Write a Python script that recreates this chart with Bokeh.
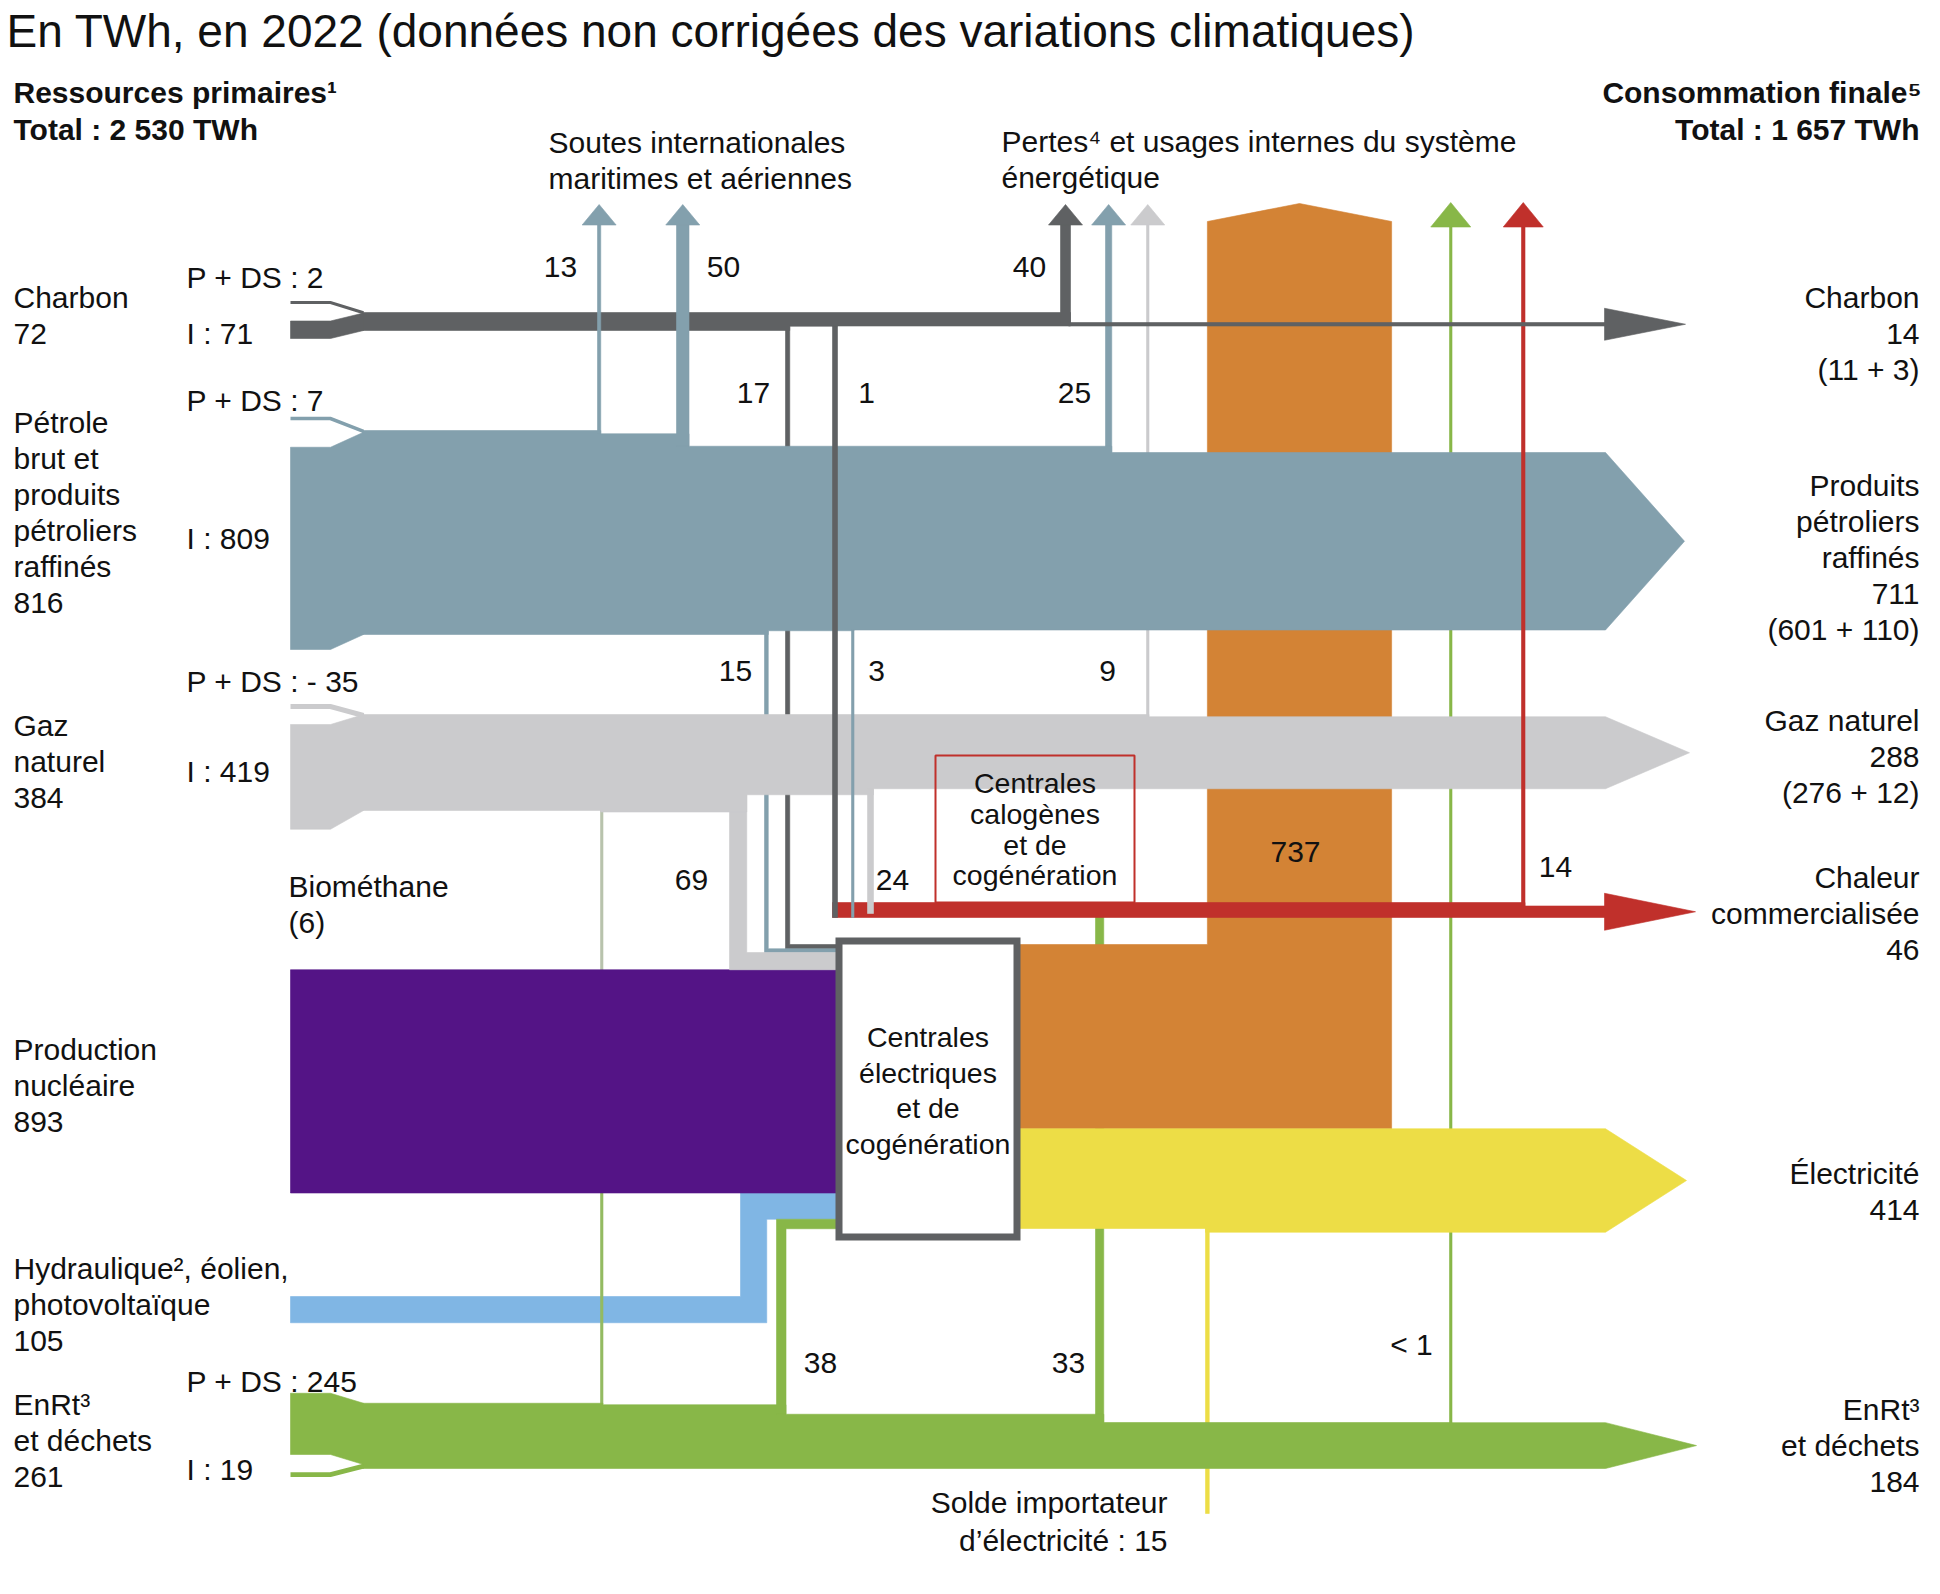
from collections import defaultdict
from bokeh.plotting import figure
from bokeh.models import Range1d
from bokeh.embed import file_html
from bokeh.resources import INLINE
from bokeh.core.properties import value

# ======================= DATA (TWh, 2022) =======================
title = "En TWh, en 2022 (données non corrigées des variations climatiques)"
total_primary = "2 530"
total_final = "1 657"

src_names = ["Charbon", "Pétrole brut et produits pétroliers raffinés", "Gaz naturel",
             "Production nucléaire", "Hydraulique, éolien, photovoltaïque", "EnRt et déchets"]
src_totals = [72, 816, 384, 893, 105, 261]
pds_values = [2, 7, -35, 245]        # production + déstockage : charbon, pétrole, gaz, EnRt
imp_values = [71, 809, 419, 19]      # importations : charbon, pétrole, gaz, EnRt

coal_out = [17, 1, 40, 14]               # centrales élec., calogènes, pertes, finale
petrol_out = [13, 50, 15, 3, 25, 711]    # soutes (x2), centrales élec., calogènes, pertes, finale
gas_out = [69, 24, 9, 288]               # centrales élec., calogènes, pertes, finale
enrt_out = [6, 38, 33, 0.5, 184]         # biométhane, centrales élec., calogènes, pertes (< 1), finale
enrt_out_text = ["6", "38", "33", "< 1", "184"]
elec_out = [737, 414]                    # pertes, électricité finale
elec_import = 15                         # solde importateur
heat_out = [14, 46]                      # pertes, chaleur commercialisée

final_totals = [14, 711, 288, 46, 414, 184]
final_detail = ["(11 + 3)", "(601 + 110)", "(276 + 12)"]

# ======================= LAYOUT =======================
K = 0.25          # px per TWh
MINW = 2.5
def wv(v): return abs(v) * K
def wd(v): return max(abs(v) * K, MINW)

X0, X1, XB = 290, 330, 362
XH = 1605
HB, HT, HW = 224, 204, 17
BOX_L, BOX_R, BOX_T, BOX_B, BOX_LW = 835, 1020, 937, 1240, 7
STACK0 = 944
RED_BOT = 917
ORANGE_XC, ORANGE_SH, ORANGE_PK = 1299, 221, 203

C = dict(coal="#5f6163", petrol="#83a0ad", gas="#cbcbcd", nuc="#541486", hydro="#80b6e4",
         enrt="#88b748", orange="#d38335", yellow="#eddd46", red="#c0302b",
         bio_up="#b8c3ad", bio_lo="#93bb62")

fig = figure(width=1940, height=1594, x_range=Range1d(0, 1940), y_range=Range1d(1594, 0),
             output_backend="svg", toolbar_location=None, min_border=0,
             x_axis_location=None, y_axis_location=None)
fig.grid.visible = False
fig.outline_line_color = None
fig.background_fill_color = "white"
fig.border_fill_color = "white"


def patch(xs, ys, c):
    fig.patch(list(xs), list(ys), fill_color=c, line_color=c, line_width=0.6)


def rect(x0, x1, y0, y1, c):
    patch([x0, x1, x1, x0], [y0, y0, y1, y1], c)


def band(x0, x1, top, bot, events, tip=None):
    tops, bots, before = [(x0, top)], [(x0, bot)], []
    for xe, side, v in events:
        before.append((top, bot))
        dv = K * v
        xs = xe + wd(v) if v > 0 else xe
        if side == "top":
            tops += [(xs, top), (xs, top + dv)]
            top += dv
        else:
            bots += [(xs, bot), (xs, bot - dv)]
            bot -= dv
    tops.append((x1, top))
    bots.append((x1, bot))
    pts = tops + ([(tip, (top + bot) / 2)] if tip else []) + bots[::-1]
    return [q[0] for q in pts], [q[1] for q in pts], before, top, bot


def up_arrow(xl, v, y_from, c, hw=HW, tip=HT, base=HB):
    w_ = wd(v)
    rect(xl, xl + w_, base, y_from, c)
    xc = xl + w_ / 2
    patch([xc - hw, xc, xc + hw], [base + 0.5, tip, base + 0.5], c)


def down_L(xl, v, y_from, leg_t, leg_b, c):
    w_ = wd(v)
    patch([xl, xl + w_, xl + w_, BOX_L + 4, BOX_L + 4, xl],
          [y_from, y_from, leg_t, leg_t, leg_b, leg_b], c)


def thin_stub(y_left, y_join, v, c, lw=None):
    fig.line([X0, X1, XB + 1], [y_left, y_left, y_join], line_width=lw or wd(v), line_color=c,
             line_join="miter")


def thick_stub(lt, lb, rt, rb, c):
    patch([X0, X1, XB + 1, XB + 1, X1, X0], [lt, lt, rt, rb, lb, lb], c)


# ---- vertical positions of the lanes
c_top = 312.0
c_bot = c_top + wv(src_totals[0])
p_top = 430.0
p_bot = p_top + wv(src_totals[1])
g_top = 714.0
g_bot = g_top + wv(src_totals[2])
e_bot0 = 1468.0
e_top = e_bot0 - wv(src_totals[5])
h_top = 1296.0
h_bot = h_top + wv(src_totals[4])

# stacking at the power-plant box
stack_vals = [coal_out[0], petrol_out[2], gas_out[0], src_totals[3], src_totals[4], enrt_out[1]]
stack = []
y = STACK0
for v in stack_vals:
    stack.append((y, y + wv(v)))
    y += wv(v)

# bands
cx, cy, c_bef, c_top_f, c_bot_f = band(XB, 1070, c_top, c_bot,
                                       [(785, "bot", coal_out[0]), (832, "bot", coal_out[1]),
                                        (1060, "top", coal_out[2])])
px, py, p_bef, _, _ = band(XB, XH, p_top, p_bot,
                           [(597, "top", petrol_out[0]), (676, "top", petrol_out[1]),
                            (764, "bot", petrol_out[2]), (851, "bot", petrol_out[3]),
                            (1105, "top", petrol_out[4])], tip=1684)
gx, gy, g_bef, _, _ = band(XB, XH, g_top, g_bot,
                           [(600, "bot", -enrt_out[0]), (729, "bot", gas_out[0]),
                            (867, "bot", gas_out[1]), (1146, "top", gas_out[2])], tip=1689)
ex, ey, e_bef, _, _ = band(XB, XH, e_top, e_bot0,
                           [(600, "top", enrt_out[0]), (776, "top", enrt_out[1]),
                            (1095, "top", enrt_out[2]), (1449, "top", enrt_out[3])], tip=1696)

elec_prod = elec_out[1] - elec_import
o_top = STACK0
o_bot = o_top + wv(elec_out[0])
y_top = o_bot
y_bot = y_top + wv(elec_prod)
yx, yy, y_bef, _, _ = band(BOX_R - 4, XH, y_top, y_bot, [(1205, "bot", -elec_import)], tip=1686)

r_top = RED_BOT - wv(heat_out[0] + heat_out[1])
rx, ry, r_bef, r_top_f, r_bot_f = band(832, XH, r_top, RED_BOT, [(1521, "top", heat_out[0])])

# ======================= DRAW (back to front) =======================
# green lines under orange / yellow
up_arrow(1449, enrt_out[3], e_bef[3][0] + 1, C["enrt"], hw=20, tip=202, base=226)
rect(1095, 1095 + wd(enrt_out[2]), RED_BOT - 2, e_bef[2][0] + wv(enrt_out[2]), C["enrt"])

# losses of the power plants (orange)
ow = wv(elec_out[0])
oxl, oxr = ORANGE_XC - ow / 2, ORANGE_XC + ow / 2
patch([BOX_R - 4, oxl, oxl, ORANGE_XC, oxr, oxr, BOX_R - 4],
      [o_top, o_top, ORANGE_SH, ORANGE_PK, ORANGE_SH, o_bot, o_bot], C["orange"])

# electricity + import
rect(1205, 1205 + wd(elec_import), y_bot - 1, 1513, C["yellow"])
patch(yx, yy, C["yellow"])

# hydro
hx = 740
hw_ = wv(src_totals[4])
patch([X0, hx, hx, BOX_L + 4, BOX_L + 4, hx + hw_, hx + hw_, X0],
      [h_top, h_top, stack[4][0], stack[4][0], stack[4][1], stack[4][1], h_bot, h_bot], C["hydro"])

# biomethane
rect(600, 600 + wd(enrt_out[0]), g_bot - 1, stack[3][0] + 20, C["bio_up"])
rect(600, 600 + wd(enrt_out[0]), stack[3][1] - 20, e_bef[0][0] + 1, C["bio_lo"])

# nuclear
rect(X0, BOX_L + 4, stack[3][0], stack[3][1], C["nuc"])

# EnRt band + stubs + 38 to power plants
patch(ex, ey, C["enrt"])
thick_stub(e_top - 10, e_top - 10 + wv(pds_values[3]), e_top, e_top + wv(pds_values[3]), C["enrt"])
thin_stub(e_bot0 + 6, e_bot0 - wv(imp_values[3]) / 2, imp_values[3], C["enrt"])
w38 = wd(enrt_out[1])
patch([776, 776, BOX_L + 4, BOX_L + 4, 776 + w38, 776 + w38],
      [e_bef[1][0] + wv(enrt_out[1]), stack[5][0], stack[5][0], stack[5][1], stack[5][1],
       e_bef[1][0] + wv(enrt_out[1])], C["enrt"])

# lines that pass under petrol / gas bands
up_arrow(1146, gas_out[2], g_bef[3][0] + wv(gas_out[2]), C["gas"])
up_arrow(1105, petrol_out[4], p_bef[4][0] + wv(petrol_out[4]), C["petrol"])
down_L(785, coal_out[0], c_bef[0][1] - wv(coal_out[0]), stack[0][0], stack[0][1], C["coal"])
down_L(764, petrol_out[2], p_bef[2][1] - wv(petrol_out[2]), stack[1][0], stack[1][1], C["petrol"])
down_L(729, gas_out[0], g_bef[1][1] - wv(gas_out[0]), stack[2][0], stack[2][1], C["gas"])

# petrol band + stubs
patch(px, py, C["petrol"])
thin_stub(p_top - 12, p_top + wv(pds_values[1]) / 2, pds_values[1], C["petrol"], lw=3.5)
thick_stub(p_top + wv(pds_values[1]) + 15, p_bot + 15, p_top + wv(pds_values[1]), p_bot, C["petrol"])

# gas band + stubs
patch(gx, gy, C["gas"])
thin_stub(g_top - 8, g_top + 1, pds_values[2], C["gas"], lw=5)
thick_stub(g_top + 10, g_top + 10 + wv(imp_values[2]), g_top, g_bot, C["gas"])

# heat (red)
patch(rx, ry, C["red"])
rcy = (r_top_f + r_bot_f) / 2
patch([XH - 1, 1695, XH - 1], [rcy - 18.5, rcy, rcy + 18.5], C["red"])
up_arrow(1521, heat_out[0], r_bef[0][0] + wv(heat_out[0]), C["red"], hw=20, tip=202, base=226)

# inputs of the heat plants
rect(832, 832 + 5, c_bef[1][1] - wv(coal_out[1]), RED_BOT, C["coal"])
rect(851, 851 + wd(petrol_out[3]), p_bef[3][1] - 1, RED_BOT, C["petrol"])
rect(867, 867 + wd(gas_out[1]), g_bef[2][1] - wv(gas_out[1]), RED_BOT - 4, C["gas"])

# coal band + stubs + arrow + losses
patch(cx, cy, C["coal"])
thin_stub(c_top - 10, c_top + wv(pds_values[0]) / 2, pds_values[0], C["coal"], lw=3)
thick_stub(c_top + wv(pds_values[0]) + 8, c_bot + 8, c_top + wv(pds_values[0]), c_bot, C["coal"])
rect(1068, XH, c_top_f, c_bot_f, C["coal"])
ccy = (c_top_f + c_bot_f) / 2
patch([XH - 1, 1685, XH - 1], [ccy - 16, ccy, ccy + 16], C["coal"])
up_arrow(1060, coal_out[2], c_bef[2][0] + wv(coal_out[2]), C["coal"])

# international bunkers (over the coal band)
up_arrow(597, petrol_out[0], p_bef[0][0] + wv(petrol_out[0]), C["petrol"])
up_arrow(676, petrol_out[1], p_bef[1][0] + wv(petrol_out[1]), C["petrol"])

# power plant box
h = BOX_LW / 2
fig.quad(left=BOX_L + h, right=BOX_R - h, top=BOX_T + h, bottom=BOX_B - h,
         fill_color="white", line_color=C["coal"], line_width=BOX_LW, line_join="miter")
# heat plant box
fig.quad(left=935, right=1134, top=755, bottom=r_bef[0][0], fill_color=None,
         line_color=C["red"], line_width=2)

# ======================= TEXT =======================
T = defaultdict(lambda: {"x": [], "y": [], "text": []})
LS = 30   # label font size
BS = 28.5 # box text font size


def txt(x, y, s, size=LS, align="left", style="normal"):
    # y is the baseline wanted; the glyph is placed by its centre
    d = T[(size, align, style)]
    d["x"].append(x)
    d["y"].append(y - 0.36 * size)
    d["text"].append(s)


def lines(x, y0, arr, align="left", step=36, size=LS):
    for i, s in enumerate(arr):
        txt(x, y0 + i * step, s, align=align, size=size)


def f(v):
    return "- " + str(abs(v)) if v < 0 else str(v)


txt(6, 47, title, size=46)
txt(13, 103, "Ressources primaires¹", size=30, style="bold")
txt(13, 140, "Total : " + total_primary + " TWh", size=30, style="bold")
txt(1921, 103, "Consommation finale⁵", size=30, align="right", style="bold")
txt(1919, 140, "Total : " + total_final + " TWh", size=30, align="right", style="bold")

lines(548, 153, ["Soutes internationales", "maritimes et aériennes"])
lines(1001, 152, ["Pertes⁴ et usages internes du système", "énergétique"])

# left labels
lines(13, 308, ["Charbon", str(src_totals[0])])
lines(13, 433, ["Pétrole", "brut et", "produits", "pétroliers", "raffinés", str(src_totals[1])])
lines(13, 736, ["Gaz", "naturel", str(src_totals[2])])
lines(288, 897, ["Biométhane", "(" + str(enrt_out[0]) + ")"])
lines(13, 1060, ["Production", "nucléaire", str(src_totals[3])])
lines(13, 1279, ["Hydraulique², éolien,", "photovoltaïque", str(src_totals[4])])
lines(13, 1415, ["EnRt³", "et déchets", str(src_totals[5])])

# P + DS / I
for yb_p, yb_i, pv, iv in zip([288, 411, 692, 1392], [344, 549, 782, 1480], pds_values, imp_values):
    txt(186, yb_p, "P + DS : " + f(pv))
    txt(186, yb_i, "I : " + f(iv))

# right labels
RX = 1919
lines(RX, 308, ["Charbon", str(final_totals[0]), final_detail[0]], align="right")
lines(RX, 496, ["Produits", "pétroliers", "raffinés", str(final_totals[1]), final_detail[1]], align="right")
lines(RX, 731, ["Gaz naturel", str(final_totals[2]), final_detail[2]], align="right")
lines(RX, 888, ["Chaleur", "commercialisée", str(final_totals[3])], align="right")
lines(RX, 1184, ["Électricité", str(final_totals[4])], align="right")
lines(RX, 1420, ["EnRt³", "et déchets", str(final_totals[5])], align="right")

# flow values
for x, yb, s in [(560, 277, petrol_out[0]), (723, 277, petrol_out[1]), (1029, 277, coal_out[2]),
                 (753, 403, coal_out[0]), (866, 403, coal_out[1]), (1074, 403, petrol_out[4]),
                 (735, 681, petrol_out[2]), (876, 681, petrol_out[3]), (1107, 681, gas_out[2]),
                 (691, 890, gas_out[0]), (892, 890, gas_out[1]), (1295, 862, elec_out[0]),
                 (1555, 877, heat_out[0]), (820, 1373, enrt_out_text[1]),
                 (1068, 1373, enrt_out_text[2]), (1411, 1355, enrt_out_text[3])]:
    txt(x, yb, str(s), align="center")

# boxes
lines(927.5, 1047, ["Centrales", "électriques", "et de", "cogénération"], align="center",
      step=35.5, size=BS)
lines(1034.5, 793, ["Centrales", "calogènes", "et de", "cogénération"], align="center",
      step=30.7, size=BS)
lines(1167, 1513, ["Solde importateur", "d’électricité : " + str(elec_import)], align="right", step=38)

for (size, align, style), d in T.items():
    fig.text(x=d["x"], y=d["y"], text=d["text"], text_font=value("Liberation Sans"),
             text_font_size=f"{size}px", text_align=align, text_baseline="alphabetic",
             text_font_style=style, text_color="#111111")

with open("out.html", "w", encoding="utf-8") as fh:
    fh.write(file_html(fig, INLINE))
